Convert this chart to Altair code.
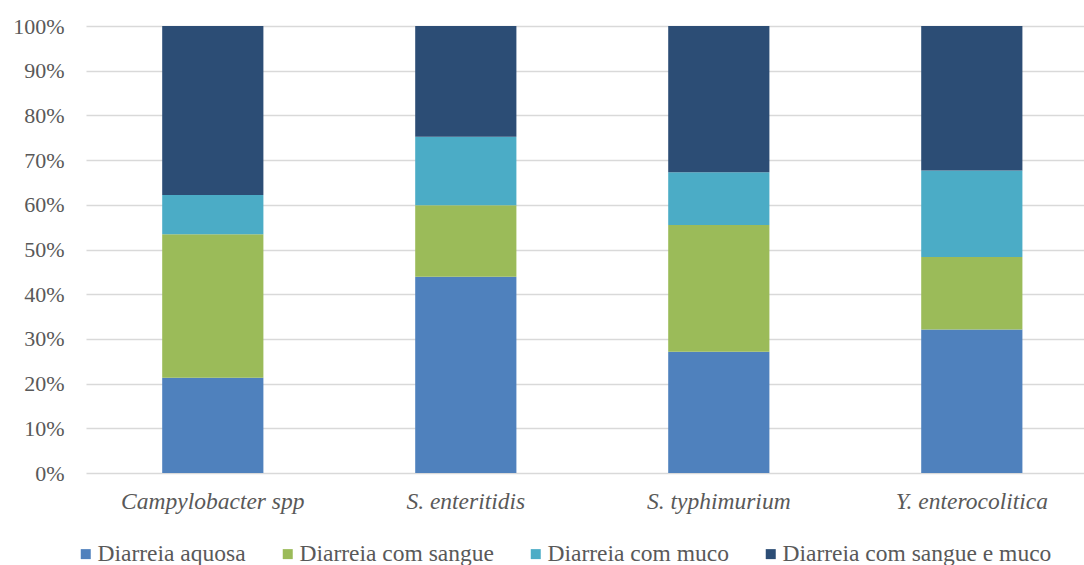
import altair as alt
import pandas as pd

categories = ["Campylobacter spp", "S. enteritidis", "S. typhimurium", "Y. enterocolitica"]
series = ["Diarreia aquosa", "Diarreia com sangue", "Diarreia com muco", "Diarreia com sangue e muco"]
aquosa = [21.3, 43.9, 27.1, 32.1]
sangue = [32.1, 16.0, 28.4, 16.2]
muco = [8.8, 15.3, 11.8, 19.4]
sangue_muco = [37.8, 24.8, 32.7, 32.3]
colors = ["#4F81BD", "#9BBB59", "#4BACC6", "#2C4D75"]

rows = []
for si, (name, vals) in enumerate(zip(series, [aquosa, sangue, muco, sangue_muco])):
    for c, v in zip(categories, vals):
        rows.append({"cat": c, "serie": name, "value": v, "ord": si})
df = pd.DataFrame(rows)

font = "'Liberation Serif', 'Times New Roman', Times, serif"
txt = "#595959"

chart = alt.Chart(df).mark_bar().encode(
    x=alt.X("cat:N", sort=categories, title=None,
            scale=alt.Scale(paddingInner=0.6, paddingOuter=0.2723, align=0.553),
            axis=alt.Axis(labelAngle=0, labelFont=font, labelFontSize=23.5,
                          labelFontStyle="italic", labelColor=txt, ticks=False,
                          domain=False, labelPadding=16, labelLimit=400)),
    y=alt.Y("value:Q", stack="normalize", title=None,
            scale=alt.Scale(domain=[0, 1]),
            axis=alt.Axis(format=".0%", values=[i / 10 for i in range(11)],
                          labelFont=font, labelFontSize=22, labelColor=txt,
                          ticks=False, domain=False, labelPadding=22,
                          grid=True, gridColor="#d9d9d9", gridWidth=1.5)),
    color=alt.Color("serie:N", sort=series,
                    scale=alt.Scale(domain=series, range=colors),
                    legend=alt.Legend(title=None, orient="none", direction="horizontal",
                                      columns=4, legendX=-12, legendY=516, padding=0,
                                      symbolType="square", symbolSize=100,
                                      symbolStrokeWidth=0, labelFont=font,
                                      labelFontSize=23.5, labelColor=txt,
                                      labelOffset=0, columnPadding=30,
                                      labelLimit=400)),
    order=alt.Order("ord:Q", sort="ascending"),
).properties(
    width=998, height=447,
    autosize=alt.AutoSizeParams(type="none"),
    padding={"left": 86, "top": 26, "right": 0, "bottom": 92},
).configure_view(stroke=None)

chart.save("out.html", embed_options={"renderer": "svg", "actions": False})
